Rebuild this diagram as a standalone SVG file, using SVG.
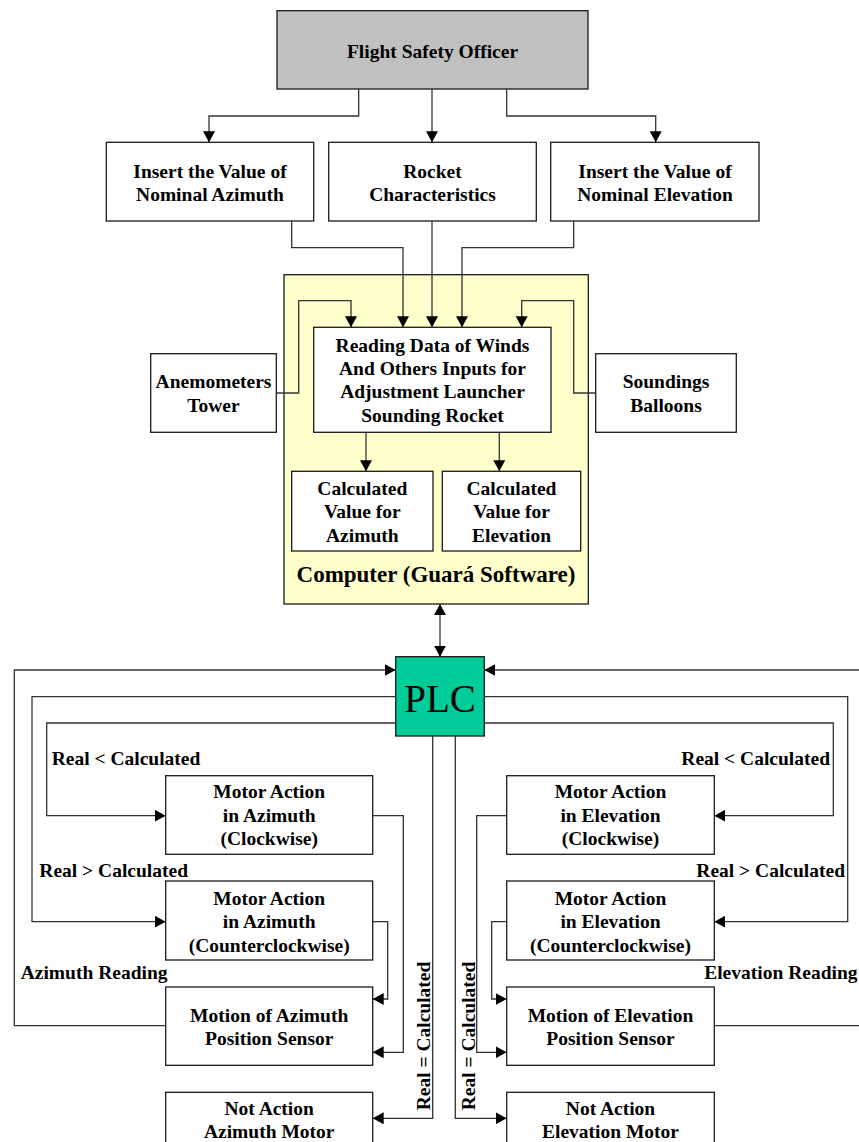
<svg xmlns="http://www.w3.org/2000/svg" width="859" height="1142" viewBox="0 0 859 1142">
<style>
.box{fill:#ffffff;stroke:#1a1a1a;stroke-width:1.3}
.t{font-family:"Liberation Serif","Times New Roman",serif;font-weight:bold;font-size:19.5px;fill:#000;text-anchor:middle}
.lbl{font-family:"Liberation Serif","Times New Roman",serif;font-weight:bold;font-size:19.5px;fill:#000}
.c{fill:none;stroke:#333;stroke-width:1.3}
.a{marker-end:url(#arr)}
</style>
<defs>
<marker id="arr" markerUnits="userSpaceOnUse" markerWidth="12" markerHeight="12" refX="11" refY="6" orient="auto">
<path d="M0,0 L11,6 L0,12 z" fill="#000"/>
</marker>
<marker id="arrs" markerUnits="userSpaceOnUse" markerWidth="12" markerHeight="12" refX="11" refY="6" orient="auto-start-reverse">
<path d="M0,0 L11,6 L0,12 z" fill="#000"/>
</marker>
</defs>
<rect width="859" height="1142" fill="#fff"/>

<g id="computer">
<rect x="284" y="274.7" width="304.3" height="329.3" fill="#ffffcc" stroke="#1a1a1a" stroke-width="1.3"/>
<text class="t" x="436" y="581.7" style="font-size:23px">Computer (Guará Software)</text>
</g>

<g id="fso">
<rect x="277" y="10.7" width="311" height="78.3" fill="#c0c0c0" stroke="#1a1a1a" stroke-width="1.3"/>
<text class="t" x="432.5" y="58">Flight Safety Officer</text>
</g>

<g id="insert-azimuth">
<rect class="box" x="106.3" y="142.3" width="207.4" height="78.7"/>
<text class="t" x="210" y="178">Insert the Value of</text>
<text class="t" x="210" y="201">Nominal Azimuth</text>
</g>
<g id="rocket">
<rect class="box" x="328.7" y="142.3" width="207.6" height="78.7"/>
<text class="t" x="432.5" y="178">Rocket</text>
<text class="t" x="432.5" y="201">Characteristics</text>
</g>
<g id="insert-elevation">
<rect class="box" x="550.7" y="142.3" width="208.3" height="78.7"/>
<text class="t" x="655" y="178">Insert the Value of</text>
<text class="t" x="655" y="201">Nominal Elevation</text>
</g>

<g id="reading">
<rect class="box" x="313.7" y="327.3" width="237.3" height="105"/>
<text class="t" x="432.5" y="351.7">Reading Data of Winds</text>
<text class="t" x="432.5" y="375">And Others Inputs for</text>
<text class="t" x="432.5" y="398.3">Adjustment Launcher</text>
<text class="t" x="432.5" y="421.7">Sounding Rocket</text>
</g>
<g id="anemometers">
<rect class="box" x="150.7" y="353.7" width="125.6" height="78.6"/>
<text class="t" x="213.5" y="388.3">Anemometers</text>
<text class="t" x="213.5" y="411.7">Tower</text>
</g>
<g id="soundings">
<rect class="box" x="595.7" y="353.7" width="140.6" height="78.6"/>
<text class="t" x="666" y="388.3">Soundings</text>
<text class="t" x="666" y="411.7">Balloons</text>
</g>
<g id="calc-azimuth">
<rect class="box" x="291.7" y="471.3" width="141.3" height="79.7"/>
<text class="t" x="362.3" y="495">Calculated</text>
<text class="t" x="362.3" y="518.3">Value for</text>
<text class="t" x="362.3" y="541.7">Azimuth</text>
</g>
<g id="calc-elevation">
<rect class="box" x="442.3" y="471.3" width="138.4" height="79.7"/>
<text class="t" x="511.5" y="495">Calculated</text>
<text class="t" x="511.5" y="518.3">Value for</text>
<text class="t" x="511.5" y="541.7">Elevation</text>
</g>

<g id="plc">
<rect x="395.7" y="656.7" width="88.6" height="79.3" fill="#00cc99" stroke="#1a1a1a" stroke-width="1.3"/>
<text x="440" y="711.7" style="font-family:'Liberation Serif','Times New Roman',serif;font-size:39px;text-anchor:middle">PLC</text>
</g>

<g id="az-cw">
<rect class="box" x="165.7" y="775.7" width="207" height="78.6"/>
<text class="t" x="269.2" y="798.3">Motor Action</text>
<text class="t" x="269.2" y="821.7">in Azimuth</text>
<text class="t" x="269.2" y="845">(Clockwise)</text>
</g>
<g id="az-ccw">
<rect class="box" x="165.7" y="881" width="207" height="79"/>
<text class="t" x="269.2" y="905">Motor Action</text>
<text class="t" x="269.2" y="928.3">in Azimuth</text>
<text class="t" x="269.2" y="951.7">(Counterclockwise)</text>
</g>
<g id="az-sensor">
<rect class="box" x="165.7" y="987" width="207" height="78.3"/>
<text class="t" x="269.2" y="1021.7">Motion of Azimuth</text>
<text class="t" x="269.2" y="1045">Position Sensor</text>
</g>
<g id="az-not">
<rect class="box" x="165.7" y="1092.3" width="207" height="60"/>
<text class="t" x="269.2" y="1115">Not Action</text>
<text class="t" x="269.2" y="1138">Azimuth Motor</text>
</g>

<g id="el-cw">
<rect class="box" x="506.7" y="775.7" width="207.6" height="78.6"/>
<text class="t" x="610.5" y="798.3">Motor Action</text>
<text class="t" x="610.5" y="821.7">in Elevation</text>
<text class="t" x="610.5" y="845">(Clockwise)</text>
</g>
<g id="el-ccw">
<rect class="box" x="506.7" y="881" width="207.6" height="79"/>
<text class="t" x="610.5" y="905">Motor Action</text>
<text class="t" x="610.5" y="928.3">in Elevation</text>
<text class="t" x="610.5" y="951.7">(Counterclockwise)</text>
</g>
<g id="el-sensor">
<rect class="box" x="506.7" y="987" width="207.6" height="78.3"/>
<text class="t" x="610.5" y="1021.7">Motion of Elevation</text>
<text class="t" x="610.5" y="1045">Position Sensor</text>
</g>
<g id="el-not">
<rect class="box" x="506.7" y="1092.3" width="207.6" height="60"/>
<text class="t" x="610.5" y="1115">Not Action</text>
<text class="t" x="610.5" y="1138">Elevation Motor</text>
</g>

<g id="connectors">
<path class="c a" d="M358.7,89 V116 H209 V142.3"/>
<path class="c a" d="M432,89 V142.3"/>
<path class="c a" d="M506.7,89 V116 H655.7 V142.3"/>
<path class="c a" d="M291.7,221 V247.7 H403 V327.3"/>
<path class="c a" d="M432,221 V327.3"/>
<path class="c a" d="M573.7,221 V247.7 H462 V327.3"/>
<path class="c a" d="M276.3,393 H298.7 V300.7 H351 V327.3"/>
<path class="c a" d="M595.7,393 H573.7 V300.7 H521.7 V327.3"/>
<path class="c a" d="M366,432.3 V471.3"/>
<path class="c a" d="M499.3,432.3 V471.3"/>
<path class="c" d="M440,604 V656.7" marker-start="url(#arrs)" marker-end="url(#arr)"/>

<path class="c a" d="M165.7,1025.7 H14.3 V670 H395.7"/>
<path class="c a" d="M395.7,696.7 H32 V921.7 H165.7"/>
<path class="c a" d="M395.7,723 H46.7 V815.7 H165.7"/>
<path class="c a" d="M372.7,815.7 H403.3 V1052.3 H372.7"/>
<path class="c a" d="M372.7,921.7 H387.7 V999 H372.7"/>
<path class="c a" d="M432.7,736 V1118.3 H372.7"/>
<path class="c a" d="M455.3,736 V1118.3 H506.7"/>

<path class="c a" d="M860,670 H484.3"/>
<path class="c" d="M714.3,1025.7 H860"/>
<path class="c a" d="M484.3,696.7 H847.7 V921.7 H714.3"/>
<path class="c a" d="M484.3,723 H833.3 V815.7 H714.3"/>
<path class="c a" d="M506.7,815.7 H476.7 V1052.3 H506.7"/>
<path class="c a" d="M506.7,921.7 H491.7 V999 H506.7"/>
</g>

<g id="labels">
<text class="lbl" x="51.7" y="765">Real &lt; Calculated</text>
<text class="lbl" x="39.3" y="876.7">Real &gt; Calculated</text>
<text class="lbl" x="20.7" y="979.3">Azimuth Reading</text>
<text class="lbl" x="830" y="765" text-anchor="end">Real &lt; Calculated</text>
<text class="lbl" x="845" y="876.7" text-anchor="end">Real &gt; Calculated</text>
<text class="lbl" x="857.5" y="979.3" text-anchor="end">Elevation Reading</text>
<text class="t" transform="translate(429.5,1036) rotate(-90)">Real = Calculated</text>
<text class="t" transform="translate(474.5,1036) rotate(-90)">Real = Calculated</text>
</g>
</svg>
